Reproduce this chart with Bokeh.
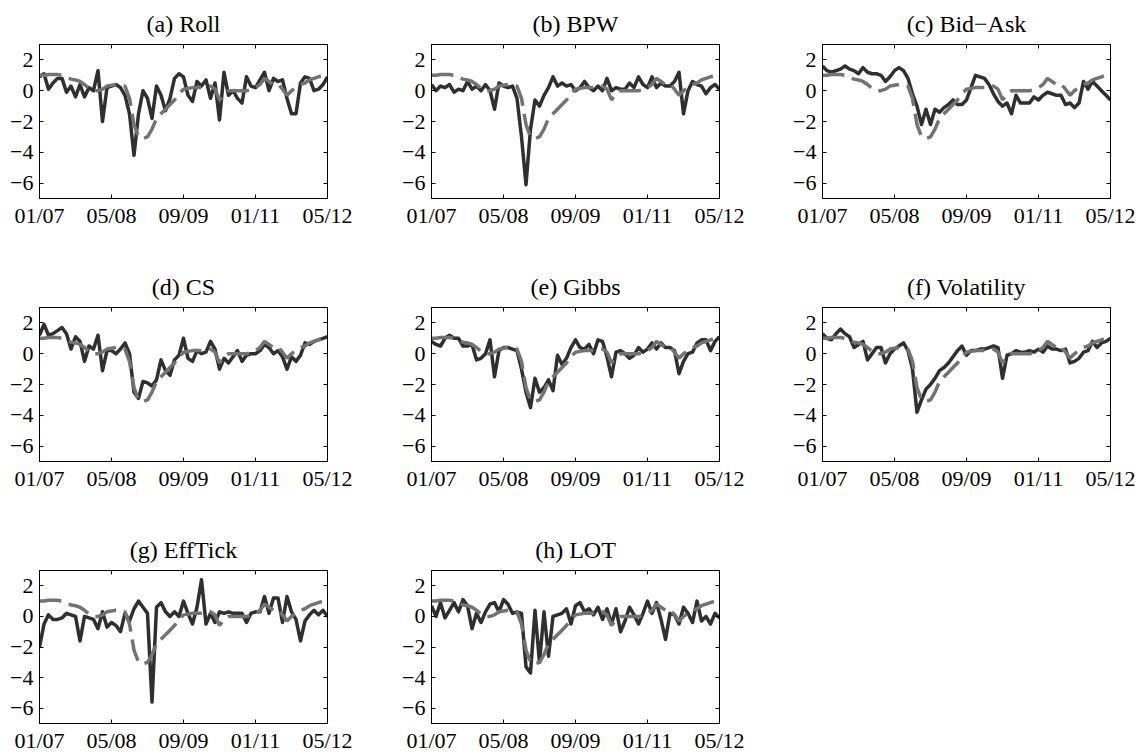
from bokeh.plotting import figure
from bokeh.models import FixedTicker, LinearAxis, Range1d
from bokeh.layouts import column, row
from bokeh.embed import file_html
from bokeh.resources import INLINE

# ---------------- data ----------------
months = list(range(65))  # 01/2007 ... 05/2012, monthly
x_ticks = [0, 16, 32, 48, 64]
x_tick_labels = ["01/07", "05/08", "09/09", "01/11", "05/12"]
y_ticks = [-6, -4, -2, 0, 2]
y_tick_labels = ["\u22126", "\u22124", "\u22122", "0", "2"]

titles = ["(a) Roll", "(b) BPW", "(c) Bid\u2212Ask", "(d) CS", "(e) Gibbs",
          "(f) Volatility", "(g) EffTick", "(h) LOT"]

benchmark = [1.0, 1.0, 1.05, 1.05, 1.05, 1.0, 0.85, 0.75, 0.7, 0.6,
             0.4, 0.15, 0.0, 0.0, 0.1, 0.3, 0.35, 0.4, 0.4, 0.3,
             -0.5, -2.2, -3.0, -3.1, -3.0, -2.5, -1.8, -1.5, -1.2, -0.9,
             -0.6, -0.2, 0.1, 0.15, 0.2, 0.2, 0.2, 0.25, 0.3, 0.1,
             -0.6, -0.2, 0.0, 0.0, 0.0, 0.0, 0.0, 0.05, 0.2, 0.4,
             0.8, 0.6, 0.4, 0.45, 0.1, -0.3, 0.0, 0.2, 0.4, 0.5,
             0.7, 0.8, 0.9, 1.0, 1.1]

roll = [0.9, 1.1, 0.1, 0.5, 0.8, 0.8, -0.1, 0.3, -0.4, 0.4,
        -0.4, 0.2, 0.0, 1.3, -2.0, 0.2, 0.3, 0.4, 0.2, -0.3,
        -1.5, -4.2, -1.5, 0.0, -0.5, -1.8, 0.3, -0.3, -1.3, -0.5,
        0.8, 1.1, 0.9, -0.3, -0.7, 0.6, 0.3, 0.7, -0.5, 0.5,
        -1.9, 1.2, -0.3, 0.0, -0.5, -0.8, 0.9, 0.3, 0.2, 0.7,
        1.2, 0.0, 0.8, 0.6, 0.7, -0.5, -1.5, -1.5, 0.5, 0.9,
        0.8, 0.0, 0.1, 0.4, 0.9]

bpw = [0.4, 0.0, 0.3, 0.2, 0.4, -0.1, 0.1, 0.0, 0.6, 0.1,
       0.3, 0.0, 0.4, 0.0, -1.2, 0.5, 0.3, 0.2, 0.3, -0.5,
       -3.0, -6.1, -2.5, -0.6, -1.0, -0.3, 0.2, 0.9, 0.3, 0.5,
       0.3, 0.4, 0.0, 0.2, 0.6, 0.2, 0.0, 0.3, 0.0, 0.8,
       0.0, 0.2, 0.1, 0.1, 0.5, 0.2, 0.9, 0.4, 0.2, 0.9,
       0.2, 0.5, 0.3, 0.3, 0.6, 1.2, -1.5, 0.0, 0.6, 0.4,
       0.3, -0.2, 0.2, 0.4, 0.1]

bid_ask = [1.6, 1.3, 1.2, 1.3, 1.4, 1.6, 1.4, 1.3, 1.1, 1.5,
           1.2, 1.1, 1.1, 1.0, 0.6, 0.9, 1.3, 1.5, 1.3, 0.8,
           -0.2, -1.0, -2.2, -1.2, -2.2, -1.2, -1.4, -1.1, -0.9, -0.6,
           -0.9, -0.9, -0.6, 0.2, 1.0, 0.9, 0.8, 0.4, -0.2, -0.7,
           -1.0, -0.8, -1.5, -0.3, -0.8, -0.8, -0.8, -0.4, -0.6, -0.3,
           -0.1, -0.2, -0.3, -0.3, -0.9, -0.8, -1.1, -0.8, 0.6, 0.1,
           0.6, 0.3, 0.0, -0.3, -0.6]

cs = [1.2, 1.9, 1.2, 1.3, 1.5, 1.7, 1.3, 0.3, 1.1, 0.8,
      -0.5, 0.5, 0.3, 1.2, -1.1, 0.2, 0.2, 0.0, 0.3, 0.7,
      0.0, -2.5, -2.9, -1.8, -1.9, -2.1, -1.7, -0.4, -1.1, -1.4,
      -0.4, -0.1, 1.0, -0.3, -0.5, 0.2, 0.0, 0.1, 0.8, 0.3,
      -1.0, -0.3, -0.6, -0.2, 0.2, -0.5, -0.1, 0.0, 0.0, 0.2,
      0.6, 0.4, 0.0, 0.2, -0.2, -1.0, -0.2, -0.5, -0.1, 0.7,
      0.6, 0.8, 0.9, 1.0, 1.1]

gibbs = [0.8, 0.6, 0.5, 1.0, 1.2, 1.0, 1.0, 0.5, 0.5, 0.6,
         -0.4, -0.3, 0.0, 0.9, -1.5, 0.2, 0.4, 0.4, 0.3, 0.2,
         -1.0, -2.5, -3.5, -1.6, -2.5, -2.2, -1.7, -2.4, -0.1, -0.7,
         -0.3, 0.4, 0.9, 0.4, 0.3, 0.6, 0.0, 0.9, 0.8, -0.2,
         -1.5, 0.1, 0.2, 0.0, -0.3, -0.1, 0.4, 0.1, 0.3, 0.7,
         0.3, 0.7, 0.4, 0.4, 0.2, -1.3, -0.5, 0.0, 0.1, 0.7,
         0.9, 0.9, 0.2, 0.8, 1.1]

volatility = [1.3, 1.0, 0.9, 1.3, 1.6, 1.3, 1.1, 0.4, 0.6, 0.8,
              -0.4, 0.0, 0.4, 0.4, -0.6, 0.0, 0.3, 0.5, 0.7, 0.2,
              -1.0, -3.8, -3.0, -2.3, -2.0, -1.6, -1.1, -0.9, -0.6, -0.2,
              0.2, 0.5, -0.1, 0.2, 0.2, 0.3, 0.3, 0.4, 0.5, 0.4,
              -1.6, -0.1, 0.0, 0.2, 0.1, 0.1, 0.2, 0.1, 0.3, 0.1,
              0.5, 0.3, 0.3, 0.2, 0.3, -0.6, -0.5, -0.3, 0.1, 0.2,
              0.8, 0.4, 0.7, 0.8, 1.0]

efftick = [-2.0, -0.5, 0.1, -0.2, -0.2, -0.1, 0.2, 0.1, 0.0, -1.6,
           0.0, -0.1, -0.2, -0.8, 0.3, -0.7, -0.4, -0.6, -1.0, 0.2,
           -0.3, 0.5, 1.0, 0.6, 0.2, -5.6, 0.6, 0.9, 0.3, 0.0,
           0.3, 0.0, 1.0, 0.2, -0.5, 0.6, 2.4, -0.5, 0.2, -0.4,
           0.3, 0.2, 0.3, 0.2, 0.2, 0.2, -0.4, 0.2, 0.3, 0.3,
           1.3, 0.2, 1.2, 1.2, -0.4, 1.3, 0.3, -0.2, -1.6, -0.3,
           0.1, 0.4, 0.1, 0.4, 0.0]

lot = [0.7, 0.0, 0.9, -0.1, 0.4, 0.9, 0.3, 1.1, 0.7, -0.8,
       0.2, -0.4, 0.3, 0.8, 0.9, 0.3, 1.1, 0.8, 0.2, 0.3,
       0.2, -3.3, -3.7, 0.4, -3.0, 0.3, -2.6, 0.0, 0.1, 0.2,
       0.5, -0.5, 0.7, 0.9, 0.3, 0.5, 0.1, 0.6, -0.2, 0.5,
       -0.5, 0.5, -1.0, -0.3, 0.6, 0.1, -0.5, 0.2, 1.0, 0.2,
       0.9, -0.2, -1.5, 0.2, 0.1, -0.5, 0.6, 0.2, -0.4, 1.0,
       -0.3, 0.0, -0.5, 0.2, -0.1]

series = [roll, bpw, bid_ask, cs, gibbs, volatility, efftick, lot]

# ---------------- styling ----------------
FONT = "Liberation Serif"
TICK_FS = "22px"
TITLE_FS = "24px"
SOLID = "#2f2f2f"
DASHED = "#737373"

col_widths = [392, 392, 355]
col_left = [39, 39, 38]
row_heights = [263, 263, 229]
row_bottom = [65, 65, 31]
FRAME_W = 288
TOP = 44


def style_axis(ax, labels=True, standoff=6):
    ax.major_tick_in = 4
    ax.major_tick_out = 0
    ax.minor_tick_line_color = None
    ax.axis_line_color = "black"
    ax.major_tick_line_color = "black"
    ax.major_label_text_font = FONT
    ax.major_label_standoff = standoff
    if labels:
        ax.major_label_text_font_size = TICK_FS
        ax.major_label_text_color = "black"
    else:
        ax.major_label_text_font_size = "1px"
        ax.major_label_text_color = None
        ax.major_label_standoff = 0


def make_panel(i):
    r, c = divmod(i, 3)
    w = col_widths[c]
    h = row_heights[r]
    p = figure(width=w, height=h,
               x_range=Range1d(0, 64), y_range=Range1d(-7, 3),
               output_backend="svg", toolbar_location=None, tools="",
               min_border_left=col_left[c], min_border_right=w - col_left[c] - FRAME_W,
               min_border_top=TOP, min_border_bottom=row_bottom[r],
               background_fill_color="white", border_fill_color="white",
               outline_line_color="black", outline_line_width=1)
    p.grid.visible = False

    p.xaxis.ticker = FixedTicker(ticks=x_ticks)
    p.xaxis.major_label_overrides = dict(zip(x_ticks, x_tick_labels))
    p.yaxis.ticker = FixedTicker(ticks=y_ticks)
    p.yaxis.major_label_overrides = dict(zip(y_ticks, y_tick_labels))
    style_axis(p.xaxis[0], True, 4)
    style_axis(p.yaxis[0], True, 6)

    top = LinearAxis(ticker=FixedTicker(ticks=x_ticks))
    style_axis(top, False)
    p.add_layout(top, "above")
    right = LinearAxis(ticker=FixedTicker(ticks=y_ticks))
    style_axis(right, False)
    p.add_layout(right, "right")

    p.title.text = titles[i]
    p.title.align = "center"
    p.title.text_font = FONT
    p.title.text_font_size = TITLE_FS
    p.title.text_font_style = "normal"
    p.title.text_color = "black"
    p.title.standoff = 15

    p.line(months, series[i], line_color=SOLID, line_width=3.5, line_join="round")
    p.line(months, benchmark, line_color=DASHED, line_width=3.5, line_dash="22 8")
    return p


panels = [make_panel(i) for i in range(8)]
layout = column(row(*panels[0:3]), row(*panels[3:6]), row(*panels[6:8]))

open("out.html", "w").write(file_html(layout, INLINE))
